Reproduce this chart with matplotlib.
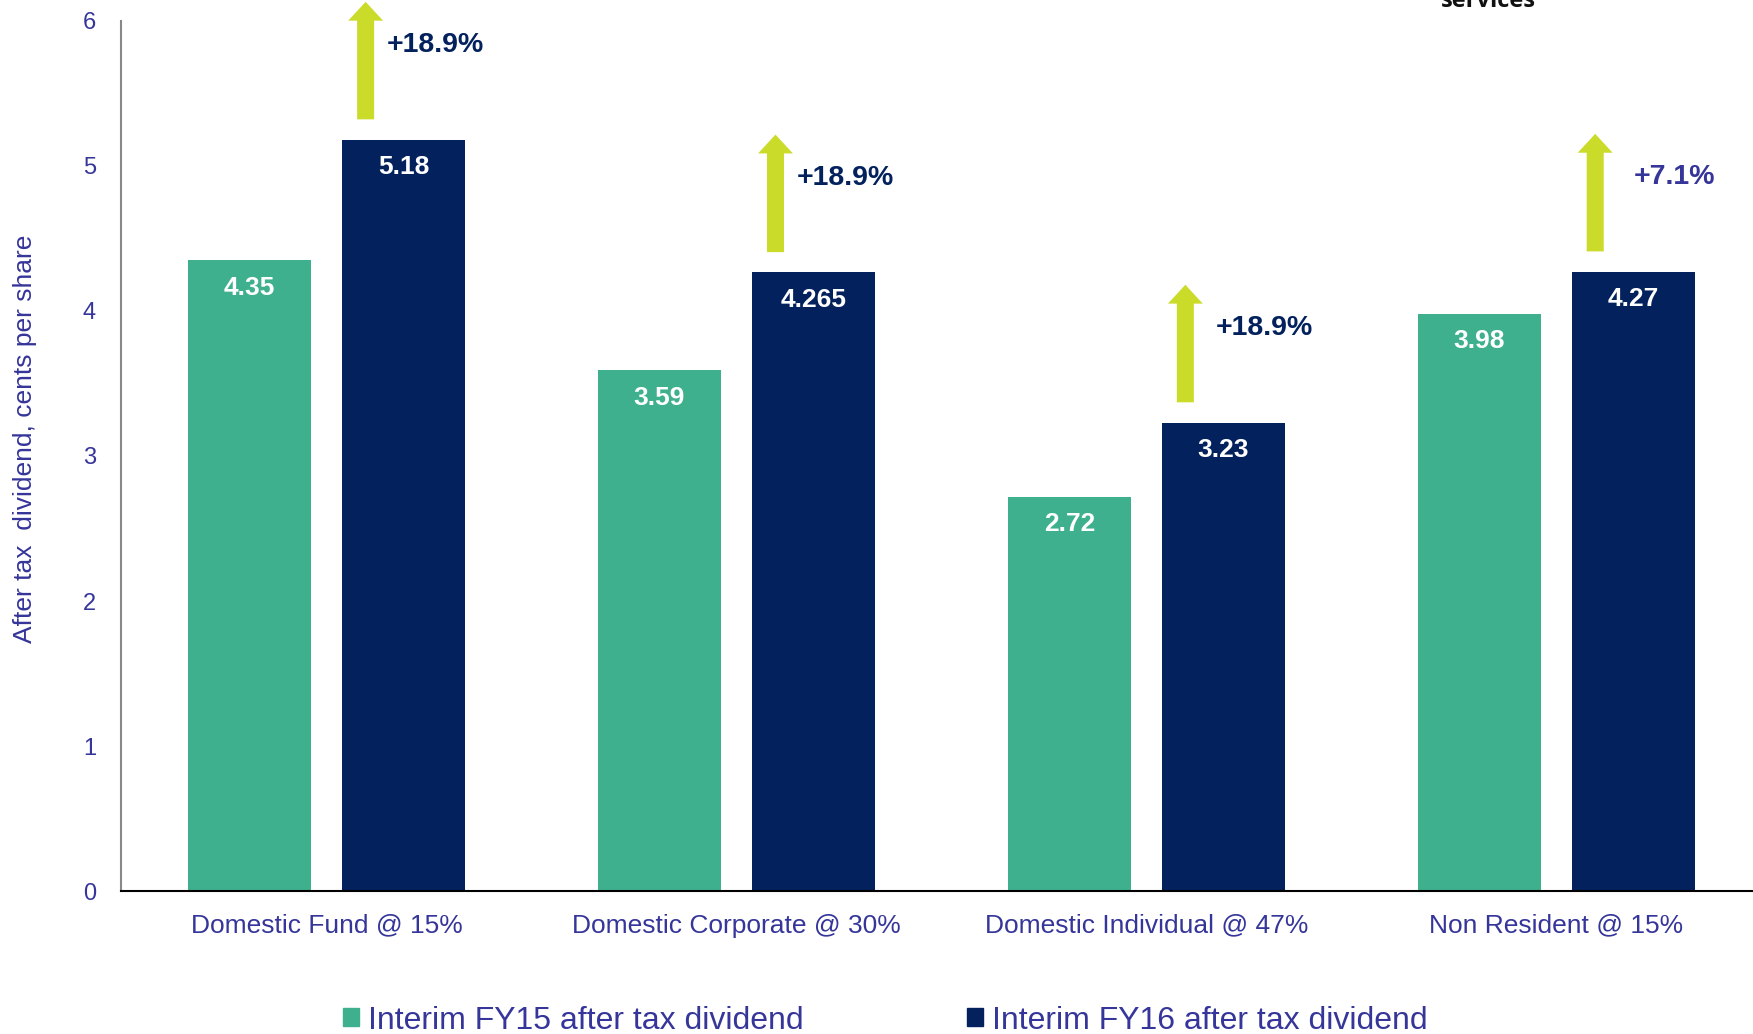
import matplotlib.pyplot as plt
from matplotlib.patches import FancyArrow, Patch
import numpy as np

# datos
categories = ['Domestic Fund @ 15%', 'Domestic Corporate @ 30%',
              'Domestic Individual @ 47%', 'Non Resident @ 15%']
fy15 = [4.35, 3.59, 2.72, 3.98]
fy16 = [5.18, 4.265, 3.23, 4.27]
changes = ['+18.9%', '+18.9%', '+18.9%', '+7.1%']
series_names = ['Interim FY15 after tax dividend', 'Interim FY16 after tax dividend']

# estilos
green = '#3eb08e'
navy = '#03215c'
lime = '#cbdb2a'
ink = '#35359a'
change_colors = [navy, navy, navy, ink]
label_dx = [0.147, 0.148, 0.168, 0.19]

plt.rcParams['font.family'] = ['Liberation Sans', 'DejaVu Sans']

fig = plt.figure(figsize=(17.53, 10.34), dpi=100)
ax = fig.add_axes([0.069, 0.138, 0.931, 0.842])

x = np.arange(len(categories))
w = 0.30
off = 0.188
ax.bar(x - off, fy15, w, color=green)
ax.bar(x + off, fy16, w, color=navy)

# valores dentro de las barras
for xi, v in zip(x - off, fy15):
    ax.text(xi, v - 0.19, f'{v:g}', ha='center', va='center', color='white',
            fontsize=19, fontweight='bold')
for xi, v in zip(x + off, fy16):
    ax.text(xi, v - 0.19, f'{v:g}', ha='center', va='center', color='white',
            fontsize=19, fontweight='bold')

# flechas de crecimiento
for i, v in enumerate(fy16):
    ax_x = x[i] + 0.095
    arr = FancyArrow(ax_x, v + 0.14, 0, 0.81, width=0.0415, head_width=0.085,
                     head_length=0.13, length_includes_head=True,
                     color=lime, lw=0, clip_on=False)
    ax.add_patch(arr)
    ax.text(x[i] + label_dx[i], v + 0.65, changes[i], ha='left', va='center',
            color=change_colors[i], fontsize=20.5, fontweight='bold')

ax.set_xlim(-0.502, 3.48)
ax.set_ylim(0, 6)
ax.set_yticks(range(7))
ax.set_xticks(x)
ax.set_xticklabels(categories)
ax.tick_params(axis='both', length=0, colors=ink, labelsize=17)
ax.tick_params(axis='x', pad=16)
ax.tick_params(axis='y', pad=18)
for lbl in ax.get_xticklabels():
    lbl.set_fontsize(19)

ax.spines['top'].set_visible(False)
ax.spines['right'].set_visible(False)
ax.spines['left'].set_color('#888888')
ax.spines['left'].set_linewidth(1.5)
ax.spines['bottom'].set_color('black')
ax.spines['bottom'].set_linewidth(1.5)

fig.text(0.014, 0.576, 'After tax  dividend, cents per share', rotation=90,
         ha='center', va='center', color=ink, fontsize=19)

handles = [Patch(color=green), Patch(color=navy)]
leg = fig.legend(handles, series_names, loc='center', bbox_to_anchor=(0.505, 0.013),
                 ncol=2, frameon=False, handlelength=0.5, handleheight=0.5,
                 handletextpad=0.28, columnspacing=5.1,
                 prop={'size': 23})
for t in leg.get_texts():
    t.set_color(ink)

# texto cortado arriba a la derecha
fig.text(1488 / 1753, 1 - 7 / 1034, 'services', ha='center', va='baseline',
         fontsize=17, fontweight='bold', color='#111111',
         family=['Open Sans', 'DejaVu Sans'])

fig.savefig('out.png', dpi=100)
